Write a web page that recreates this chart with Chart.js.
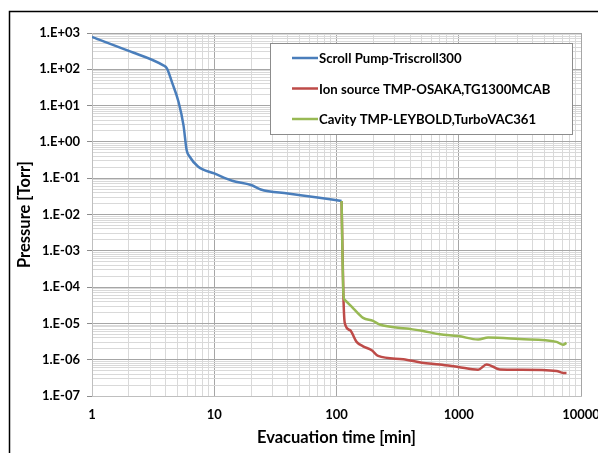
<!DOCTYPE html>
<html>
<head>
<meta charset="utf-8">
<script src="https://cdn.jsdelivr.net/npm/chart.js@4/dist/chart.umd.min.js"></script>
<style>
    html, body { margin: 0; padding: 0; background: #fff; }
    #wrap { position: relative; width: 598px; height: 453px; }
</style>
</head>
<body>
<div id="wrap"><canvas id="pumpChart" width="598" height="453"></canvas></div>
<script>
// series labels
const seriesNames = ['Scroll Pump-Triscroll300', 'Ion source TMP-OSAKA,TG1300MCAB', 'Cavity TMP-LEYBOLD,TurboVAC361'];

// Scroll pump (min, Torr)
const scrollTime = [1, 2, 3.8, 4.1, 4.5, 5.1, 5.6, 5.95, 6.3, 7.4, 10, 14, 20, 24, 40, 70, 110];
const scrollPressure = [780, 320, 130, 106, 45, 12.8, 2.9, 0.59, 0.39, 0.206, 0.135, 0.085, 0.065, 0.049, 0.038, 0.0295, 0.0235];

// Ion source TMP
const ionTime = [110, 114, 117, 129, 146, 165, 194, 219, 351, 499, 700, 989, 1440, 1690, 2170, 3160, 6310, 7140, 7610];
const ionPressure = [0.0235, 5e-5, 1e-5, 6.5e-6, 3.1e-6, 2.34e-6, 1.82e-6, 1.27e-6, 1.03e-6, 8.3e-7, 7.4e-7, 6.3e-7, 5.3e-7, 7.4e-7, 5.4e-7, 5.3e-7, 4.9e-7, 4.3e-7, 4.3e-7];

// Cavity TMP
const cavityTime = [110, 114, 117, 137, 165, 199, 226, 374, 499, 700, 989, 1440, 1740, 3160, 6310, 7140, 7610];
const cavityPressure = [0.0235, 6e-5, 4.4e-5, 2.6e-5, 1.42e-5, 1.17e-5, 9.3e-6, 7.2e-6, 6.3e-6, 5.0e-6, 4.5e-6, 3.6e-6, 4.1e-6, 3.7e-6, 3.1e-6, 2.6e-6, 2.9e-6];

// axis ranges (decades)
const xDecades = [0, 1, 2, 3, 4];
const yDecades = [-7, -6, -5, -4, -3, -2, -1, 0, 1, 2, 3];

const colors = ['#4a7ebb', '#be4b48', '#98b954'];
const font = 'Lato, "Open Sans", sans-serif';

function toPoints(xs, ys) {
    return xs.map((x, i) => ({ x: x, y: ys[i] }));
}

function isMajor(v) {
    const l = Math.log10(v);
    return Math.abs(l - Math.round(l)) < 1e-6;
}

function logTicks(decades) {
    const out = [];
    decades.forEach((e, i) => {
        const last = i === decades.length - 1;
        for (let m = 1; m <= (last ? 1 : 9); m++) {
            out.push({ value: Number((m * Math.pow(10, e)).toPrecision(3)) });
        }
    });
    return out;
}

function sciLabel(v) {
    const e = Math.round(Math.log10(v));
    const sign = e < 0 ? '-' : '+';
    return '1.E' + sign + String(Math.abs(e)).padStart(2, '0');
}

const frame = {
    id: 'frame',
    beforeDraw(chart) {
        const ctx = chart.ctx;
        ctx.save();
        ctx.strokeStyle = '#000';
        ctx.lineWidth = 1.5;
        ctx.beginPath();
        ctx.moveTo(9.5, 453);
        ctx.lineTo(9.5, 11.5);
        ctx.lineTo(598, 11.5);
        ctx.stroke();
        ctx.restore();
    }
};

const boxLegend = {
    id: 'boxLegend',
    afterDraw(chart) {
        const ctx = chart.ctx;
        ctx.save();
        ctx.fillStyle = '#fff';
        ctx.fillRect(270, 43, 302, 91);
        ctx.strokeStyle = '#8c8c8c';
        ctx.lineWidth = 1;
        ctx.strokeRect(270.5, 43.5, 302, 91);
        ctx.font = 'bold 13.2px ' + font;
        ctx.textBaseline = 'middle';
        ctx.fillStyle = '#000';
        const rows = [58, 88.5, 119];
        seriesNames.forEach((name, i) => {
            ctx.strokeStyle = colors[i];
            ctx.lineWidth = 2.5;
            ctx.beginPath();
            ctx.moveTo(292, rows[i]);
            ctx.lineTo(318, rows[i]);
            ctx.stroke();
            ctx.fillText(name, 319, rows[i] + 1);
        });
        ctx.restore();
    }
};

new Chart(document.getElementById('pumpChart'), {
    type: 'line',
    data: {
        datasets: [
            { label: seriesNames[0], data: toPoints(scrollTime, scrollPressure), borderColor: colors[0], order: 1 },
            { label: seriesNames[1], data: toPoints(ionTime, ionPressure), borderColor: colors[1], order: 2 },
            { label: seriesNames[2], data: toPoints(cavityTime, cavityPressure), borderColor: colors[2], order: 0 }
        ].map(d => Object.assign(d, {
            borderWidth: 2.5,
            pointRadius: 0,
            fill: false,
            cubicInterpolationMode: 'monotone'
        }))
    },
    options: {
        responsive: false,
        animation: false,
        layout: { padding: { left: 12, top: 33, right: 17, bottom: 0 } },
        plugins: { legend: { display: false }, tooltip: { enabled: false } },
        scales: {
            x: {
                type: 'logarithmic',
                min: 1,
                max: 10000,
                afterBuildTicks: s => { s.ticks = logTicks(xDecades); },
                afterFit: s => { s.height = 57; s.paddingRight = 0; s.paddingLeft = 0; },
                border: { color: '#bfbfbf' },
                grid: {
                    drawTicks: false,
                    color: c => (c.tick && isMajor(c.tick.value)) ? '#a6a6a6' : '#d9d9d9'
                },
                ticks: {
                    autoSkip: false,
                    maxRotation: 0,
                    padding: 11,
                    color: '#000',
                    font: { family: font, size: 13, weight: 'bold' },
                    callback: v => isMajor(v) ? String(Math.round(v)) : ''
                },
                title: {
                    display: true,
                    text: 'Evacuation time [min]',
                    color: '#000',
                    font: { family: font, size: 16.5, weight: 'bold' },
                    padding: { top: 2, bottom: 5 }
                }
            },
            y: {
                type: 'logarithmic',
                min: 1e-7,
                max: 1e3,
                afterBuildTicks: s => { s.ticks = logTicks(yDecades); },
                afterFit: s => { s.width = 80; },
                border: { color: '#bfbfbf' },
                grid: {
                    tickLength: 5,
                    tickColor: c => (c.tick && isMajor(c.tick.value)) ? '#8c8c8c' : 'rgba(0,0,0,0)',
                    color: c => (c.tick && isMajor(c.tick.value)) ? '#a6a6a6' : '#d9d9d9'
                },
                ticks: {
                    autoSkip: false,
                    padding: 7,
                    color: '#000',
                    font: { family: font, size: 13, weight: 'bold' },
                    callback: v => isMajor(v) ? sciLabel(v) : ''
                },
                title: {
                    display: true,
                    text: 'Pressure [Torr]',
                    color: '#000',
                    font: { family: font, size: 16.5, weight: 'bold' },
                    padding: { top: 3, bottom: 0 }
                }
            }
        }
    },
    plugins: [frame, boxLegend]
});
</script>
</body>
</html>
